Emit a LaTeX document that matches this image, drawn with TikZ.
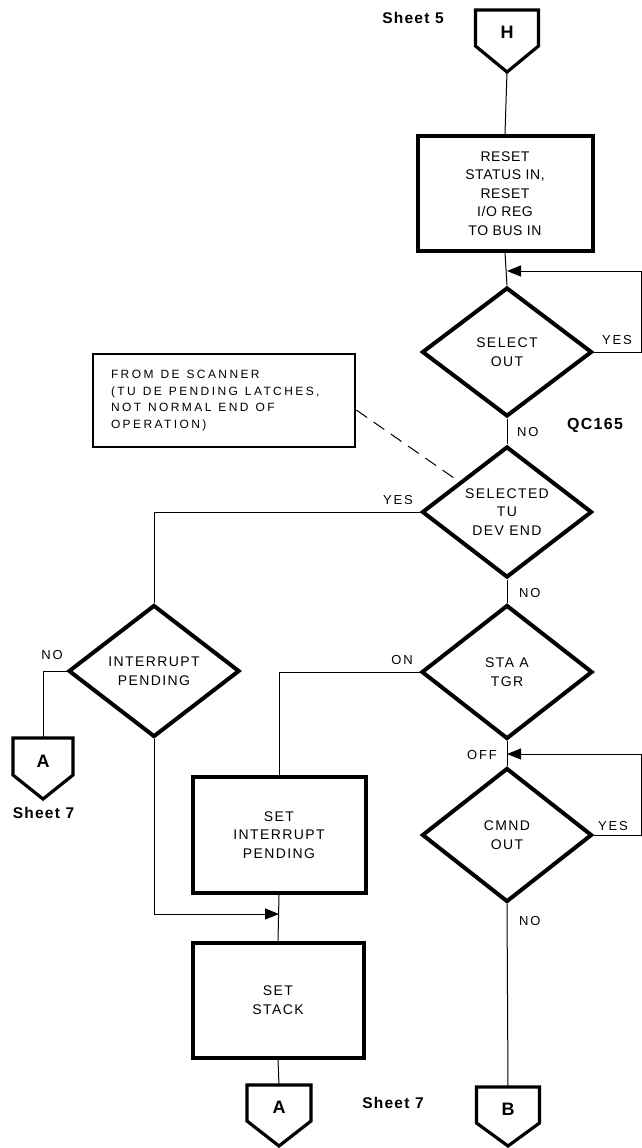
\documentclass[tikz,border=0pt]{standalone}
\usepackage{fontspec}
\setmainfont{Liberation Sans}
\newfontfamily\lblfont[LetterSpace=10]{Liberation Sans}
\newfontfamily\rstfont[LetterSpace=4]{Liberation Sans}
\newfontfamily\ynfont[LetterSpace=14]{Liberation Sans}
\newfontfamily\notefont[LetterSpace=20]{Liberation Sans}
\newfontfamily\sheetfont[LetterSpace=8]{Liberation Sans Bold}
\newcommand\nsp{\hspace{7pt}}
\usetikzlibrary{shapes.geometric,arrows.meta,calc}
\tikzset{
  procbox/.style={rectangle, draw, line width=4pt, inner sep=0pt, align=center,
    font=\lblfont\fontsize{14}{18.6}\selectfont},
  decbox/.style={diamond, draw, line width=4pt, inner sep=0pt, align=center,
    font=\lblfont\fontsize{14}{18.8}\selectfont},
  connbody/.style={rectangle, inner sep=0pt, outer sep=0pt, minimum width=63pt, minimum height=36pt,
    font=\bfseries\fontsize{18}{20}\selectfont, text height=21pt, text depth=0pt},
  connline/.style={line width=3.2pt, line join=miter},
  flow/.style={line width=1pt},
  arr/.style={flow, -{Triangle[length=14pt,width=11pt]}},
  yn/.style={font=\ynfont\fontsize{13}{15}\selectfont, inner sep=0pt},
  sheetlbl/.style={font=\sheetfont\fontsize{15.5}{18}\selectfont, inner sep=0pt},
  notebox/.style={rectangle, draw, line width=2.8pt, align=left, inner sep=0pt, text width=226pt,
    minimum width=262pt, minimum height=93pt, font=\notefont\fontsize{12}{16.7}\selectfont},
}
\begin{document}
\begin{tikzpicture}[x=1pt,y=-1pt]
\useasboundingbox (0,0) rectangle (642,1148);
% off-page connector H
\node[connbody] (H) at (507,28) {H};
\coordinate (Ht) at (507,72);
\draw[connline] (H.north west) -- (H.north east) -- (H.south east) -- (Ht) -- (H.south west) -- cycle;
\node[sheetlbl] (s5) at (413,18) {Sheet 5};
% process boxes
\node[procbox, font=\rstfont\fontsize{14}{18.6}\selectfont, minimum width=175pt, minimum height=115pt] (reset) at (505,193.5)
  {RESET\\STATUS IN,\\RESET\\I/O REG\\TO BUS IN};
\node[decbox, minimum width=170pt, minimum height=129pt] (selo) at (507,352) {SELECT\\OUT};
\node[decbox, minimum width=170pt, minimum height=130pt] (sel) at (507,512) {SELECTED\\TU\\DEV END};
\node[decbox, minimum width=171pt, minimum height=134pt] (sta) at (507,672) {STA A\\TGR};
\node[decbox, minimum width=170pt, minimum height=134pt] (cmnd) at (507,835) {CMND\\OUT};
\node[decbox, minimum width=171pt, minimum height=132pt] (intp) at (154,671) {INTERRUPT\\PENDING};
\node[procbox, minimum width=173pt, minimum height=116pt] (setint) at (279,835) {SET\\INTERRUPT\\PENDING};
\node[procbox, minimum width=171pt, minimum height=115pt] (stack) at (278,1000) {SET\\STACK};
% connectors
\node[connbody, minimum width=60pt, minimum height=37pt] (A1) at (43,756.5) {A};
\coordinate (A1t) at (43,799);
\draw[connline] (A1.north west) -- (A1.north east) -- (A1.south east) -- (A1t) -- (A1.south west) -- cycle;
\node[sheetlbl] (s7a) at (43.5,813) {Sheet 7};
\node[connbody, minimum width=64pt] (A2) at (279,1103) {A};
\coordinate (A2t) at (279,1146);
\draw[connline] (A2.north west) -- (A2.north east) -- (A2.south east) -- (A2t) -- (A2.south west) -- cycle;
\node[sheetlbl] (s7b) at (393,1103) {Sheet 7};
\node[connbody] (B) at (508,1105) {B};
\coordinate (Bt) at (508,1146);
\draw[connline] (B.north west) -- (B.north east) -- (B.south east) -- (Bt) -- (B.south west) -- cycle;
% note
\node[notebox] (note) at (224,400.5)
  {FROM\nsp DE\nsp SCANNER\\(TU\nsp DE\nsp PENDING\nsp LATCHES,\\NOT\nsp NORMAL\nsp END\nsp OF\\OPERATION)};
\node[font=\sheetfont\fontsize{16}{18}\selectfont, inner sep=0pt] (qc) at (595,425) {QC165};
% junctions
\coordinate (j1) at (507,271);
\coordinate (r1) at (641,271);
\coordinate (j2) at (507,754);
\coordinate (r2) at (641,754);
\coordinate (j3) at (279,914);
% flow lines
\draw[flow] (Ht) -- (reset.north);
\draw[flow] (reset.south) -- (selo.north);
\draw[arr] (selo.east) -| (r1) -- (j1);
\draw[flow] (selo.south) -- (sel.north);
\draw[flow] (sel.west) -| (intp.north);
\draw[flow] (sel.south) -- (sta.north);
\draw[flow] (sta.west) -| (setint.north);
\draw[flow] (sta.south) -- (cmnd.north);
\draw[arr] (cmnd.east) -| (r2) -- (j2);
\draw[flow] (cmnd.south) -- (B.north);
\draw[flow] (intp.west) -| (A1.north);
\draw[arr] (intp.south) |- (j3);
\draw[flow] (setint.south) -- (stack.north);
\draw[flow] (stack.south) -- (A2.north);
\draw[flow, dash pattern=on 13pt off 8pt] ($(note.north east)!0.6!(note.south east)$) -- ($(sel.north)!0.55!(sel.west)$);
% labels
\node[yn] (y1) at (617,340) {YES};
\node[yn, anchor=west] (n1) at (517,432) {NO};
\node[yn] (y2) at (398,500) {YES};
\node[yn, anchor=west] (n2) at (519,593) {NO};
\node[yn] (on) at (402,660) {ON};
\node[yn, anchor=east] (off) at (497,755) {OFF};
\node[yn] (y3) at (613,826) {YES};
\node[yn, anchor=west] (n3) at (519,921) {NO};
\node[yn] (n4) at (52,655) {NO};
\end{tikzpicture}
\end{document}
